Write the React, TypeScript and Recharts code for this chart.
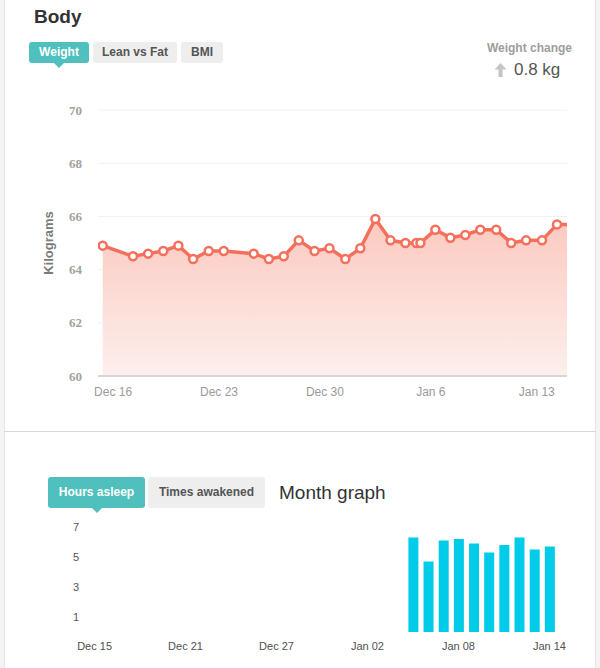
import { AreaChart, Area, BarChart, Bar, XAxis, YAxis, CartesianGrid, Label } from 'recharts';

// weigh-ins (local time) and kilograms
const weighTimes = [
  '2013-12-15T07:30', '2013-12-17T07:30', '2013-12-18T07:30', '2013-12-19T07:30', '2013-12-20T07:30',
  '2013-12-21T07:00', '2013-12-22T07:40', '2013-12-23T07:30', '2013-12-25T07:00', '2013-12-26T07:00',
  '2013-12-27T06:40', '2013-12-28T06:30', '2013-12-29T07:30', '2013-12-30T07:10', '2013-12-31T08:20',
  '2014-01-01T08:10', '2014-01-02T08:00', '2014-01-03T08:00', '2014-01-04T07:40', '2014-01-05T01:00',
  '2014-01-05T07:30', '2014-01-06T07:10', '2014-01-07T07:00', '2014-01-08T06:40', '2014-01-09T06:30',
  '2014-01-10T07:40', '2014-01-11T07:30', '2014-01-12T07:10', '2014-01-13T08:20', '2014-01-14T08:10',
  '2014-01-15T08:00',
];
const weighKg = [
  64.9, 64.5, 64.6, 64.7, 64.9, 64.4, 64.7, 64.7, 64.6, 64.4,
  64.5, 65.1, 64.7, 64.8, 64.4, 64.8, 65.9, 65.1, 65.0, 65.0,
  65.0, 65.5, 65.2, 65.3, 65.5, 65.5, 65.0, 65.1, 65.1, 65.7,
  65.7,
];
const kgTicks = [60, 62, 64, 66, 68, 70];
const weekTicks = ['2013-12-16T00:00', '2013-12-23T00:00', '2013-12-30T00:00', '2014-01-06T00:00', '2014-01-13T00:00'];
const monthRange = ['2013-12-15T00:00', '2014-01-15T00:00'];

// sleep, one bar per night
const sleepDays = [
  'Dec 15', 'Dec 16', 'Dec 17', 'Dec 18', 'Dec 19', 'Dec 20', 'Dec 21', 'Dec 22', 'Dec 23', 'Dec 24',
  'Dec 25', 'Dec 26', 'Dec 27', 'Dec 28', 'Dec 29', 'Dec 30', 'Dec 31', 'Jan 01', 'Jan 02', 'Jan 03',
  'Jan 04', 'Jan 05', 'Jan 06', 'Jan 07', 'Jan 08', 'Jan 09', 'Jan 10', 'Jan 11', 'Jan 12', 'Jan 13',
  'Jan 14',
];
const sleepHours = [
  null, null, null, null, null, null, null, null, null, null,
  null, null, null, null, null, null, null, null, null, null,
  null, 6.3, 4.7, 6.1, 6.2, 5.9, 5.3, 5.8, 6.3, 5.5,
  5.7,
];
const hourTicks = [1, 3, 5, 7];

const MONTHS = ['Jan', 'Feb', 'Mar', 'Apr', 'May', 'Jun', 'Jul', 'Aug', 'Sep', 'Oct', 'Nov', 'Dec'];
const ts = (s: string) => new Date(s).getTime();

const weightData = weighTimes.map((t, i) => ({ t: ts(t), kg: weighKg[i] }));
const sleepData = sleepDays.map((d, i) => ({ day: d, hours: sleepHours[i] }));

const CORAL = '#f4705c';
const TEAL = '#4fc0bd';
const FONT = '"Liberation Sans", Arial, sans-serif';

const Tab = ({ text, left, top, width, height = 21, active }: { text: string; left: number; top: number; width: number; height?: number; active?: boolean }) => (
  <div style={{ position: 'absolute', left, top, width }}>
    <div style={{
      height, lineHeight: `${height}px`, textAlign: 'center', borderRadius: 3,
      background: active ? TEAL : '#eeeeee', color: active ? '#fff' : '#555',
      fontSize: 12, fontWeight: 'bold',
    }}>{text}</div>
    {active && (
      <div style={{
        position: 'absolute', left: width / 2 - 5, top: height, width: 0, height: 0,
        borderLeft: '5px solid transparent', borderRight: '5px solid transparent', borderTop: `5px solid ${TEAL}`,
      }} />
    )}
  </div>
);

const KgTick = ({ x, y, payload }: any) => (
  <text x={x} y={y} dy="0.35em" textAnchor="end" fontSize={13} fontWeight="bold" fill="#a2a2a2" fontFamily='"Liberation Serif", "Times New Roman", serif'>
    {payload.value}
  </text>
);

export default function App() {
  return (
    <div style={{ position: 'absolute', left: 0, top: 0, width: 600, height: 668, background: '#f4f4f4', fontFamily: FONT, overflow: 'hidden' }}>
      <div style={{ position: 'absolute', left: 4, top: -1, width: 590, height: 431, background: '#fff', border: '1px solid #e6e6e6' }} />
      <div style={{ position: 'absolute', left: 4, top: 431, width: 592, height: 1, background: '#d8d8d8' }} />
      <div style={{ position: 'absolute', left: 4, top: 432, width: 590, height: 240, background: '#fff', borderLeft: '1px solid #e6e6e6', borderRight: '1px solid #e6e6e6' }} />

      <div style={{ position: 'absolute', left: 34, top: 7, fontSize: 19, lineHeight: '19px', fontWeight: 'bold', color: '#333' }}>Body</div>

      <Tab text="Weight" left={29} top={42} width={60} active />
      <Tab text="Lean vs Fat" left={93} top={42} width={84} />
      <Tab text="BMI" left={181} top={42} width={42} />

      <div style={{ position: 'absolute', right: 28, top: 41, fontSize: 12, lineHeight: '14px', fontWeight: 'bold', color: '#9d9d9d' }}>Weight change</div>
      <svg style={{ position: 'absolute', left: 494, top: 63 }} width={13} height={15}>
        <polygon points="6.5,0 12.5,6.5 8.5,6.5 8.5,14 4.5,14 4.5,6.5 0.5,6.5" fill="#c4c4c4" />
      </svg>
      <div style={{ position: 'absolute', left: 514, top: 60, fontSize: 17, lineHeight: '20px', color: '#555' }}>0.8 kg</div>

      <div style={{ position: 'absolute', left: 0, top: 0 }}>
        <AreaChart width={600} height={400} data={weightData} margin={{ top: 110, right: 33, bottom: 0, left: 0 }}>
          <defs>
            <linearGradient id="kgFill" x1="0" y1="0" x2="0" y2="1">
              <stop offset="0%" stopColor="#fcc9c0" />
              <stop offset="100%" stopColor="#fdefed" />
            </linearGradient>
          </defs>
          <CartesianGrid vertical={false} stroke="#f1f1f1" />
          <XAxis
            dataKey="t"
            type="number"
            scale="time"
            domain={monthRange.map(ts)}
            allowDataOverflow
            ticks={weekTicks.map(ts)}
            tickFormatter={(v: number) => { const d = new Date(v); return `${MONTHS[d.getMonth()]} ${d.getDate()}`; }}
            height={24}
            tickLine={false}
            tickSize={0}
            tickMargin={11}
            axisLine={{ stroke: '#d6d6d6', strokeWidth: 2 }}
            tick={{ fontSize: 12, fill: '#9a9a9a' }}
          />
          <YAxis
            domain={[60, 70]}
            ticks={kgTicks}
            width={98}
            axisLine={false}
            tickLine={false}
            tickSize={0}
            tickMargin={16}
            tick={<KgTick />}
          >
            <Label value="Kilograms" angle={-90} position="center" dx={-1} style={{ fontSize: 13, fontWeight: 'bold', fill: '#7a7a7a' }} />
          </YAxis>
          <Area
            type="linear"
            dataKey="kg"
            stroke={CORAL}
            strokeWidth={3.5}
            fill="url(#kgFill)"
            fillOpacity={1}
            dot={{ r: 4, fill: '#fff', stroke: CORAL, strokeWidth: 2.5 }}
            activeDot={false}
            isAnimationActive={false}
          />
        </AreaChart>
      </div>

      <Tab text="Hours asleep" left={48} top={477} width={97} height={31} active />
      <Tab text="Times awakened" left={148} top={477} width={117} height={31} />
      <div style={{ position: 'absolute', left: 279, top: 482, fontSize: 19, lineHeight: '22px', color: '#333' }}>Month graph</div>

      <div style={{ position: 'absolute', left: 0, top: 500 }}>
        <BarChart width={600} height={168} data={sleepData} margin={{ top: 12, right: 43, bottom: 0, left: 0 }}>
          <XAxis
            dataKey="day"
            interval={5}
            height={36}
            axisLine={false}
            tickLine={false}
            tickSize={0}
            tickMargin={10}
            tick={{ fontSize: 11, fill: '#505050' }}
          />
          <YAxis
            domain={[0, 8]}
            ticks={hourTicks}
            width={87}
            axisLine={false}
            tickLine={false}
            tickSize={0}
            tickMargin={8}
            tick={{ fontSize: 11, fill: '#555' }}
          />
          <Bar dataKey="hours" fill="#00cbe8" barSize={10} isAnimationActive={false} />
        </BarChart>
      </div>
    </div>
  );
}
